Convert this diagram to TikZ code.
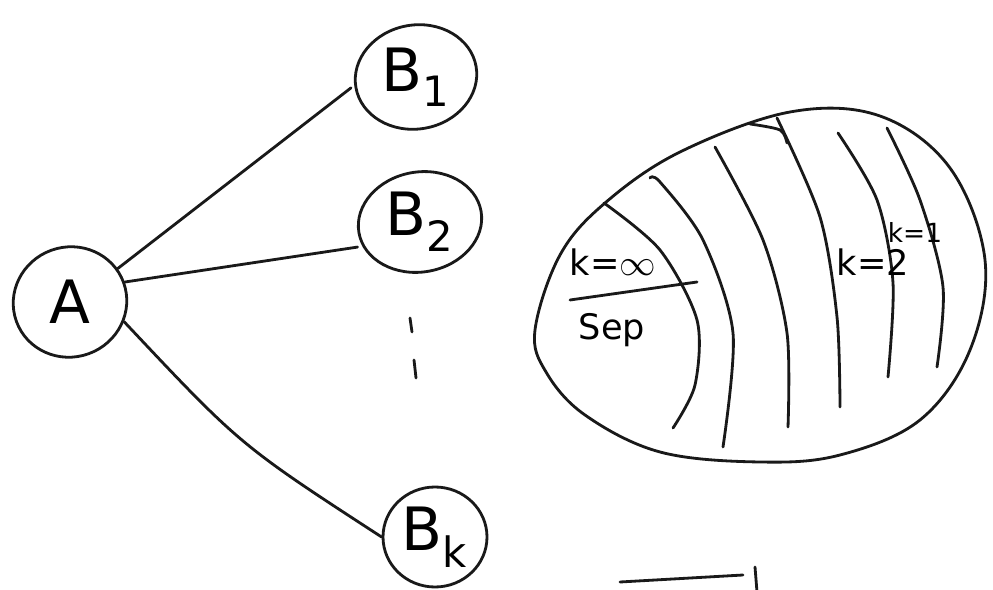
\documentclass[tikz,border=0pt]{standalone}
\usepackage{fontspec}
\setmainfont{DejaVu Sans}
\usetikzlibrary{shapes.geometric}
\begin{document}
\begin{tikzpicture}[x=0.02cm,y=-0.02cm,
  ink/.style={line width=1.6pt,draw=black!90,line cap=round,line join=round},
  vert/.style={ink,ellipse,inner sep=0pt},
  lbl/.style={font=\fontsize{34}{38}\selectfont},
  small/.style={font=\fontsize{20}{22}\selectfont}]
\fill[white] (0,0) rectangle (993,590);
\useasboundingbox (0,0) rectangle (993,590);
% vertices
\node[vert,minimum width=114*0.02cm,minimum height=110*0.02cm,rotate=20] (A) at (70,302) {};
\node[lbl] at (A) {A};
\node[vert,minimum width=122*0.02cm,minimum height=104*0.02cm,rotate=10] (B1) at (416,77) {};
\node[lbl] at (B1) {B\textsubscript{1}};
\node[vert,minimum width=124*0.02cm,minimum height=100*0.02cm,rotate=10] (B2) at (420,222) {};
\node[lbl] at (B2) {B\textsubscript{2}};
\node[vert,minimum width=104*0.02cm,minimum height=100*0.02cm] (Bk) at (435,537) {};
\node[lbl] at (Bk) {B\textsubscript{k}};
% edges
\draw[ink] (A.15) -- ([xshift=-2pt]B1.west);
\draw[ink] (A.east) -- ([yshift=-8pt]B2.west);
\draw[ink] (A.-40) .. controls (240,445) .. (Bk.west);
% vertical dots
\coordinate (d1) at (410,318); \coordinate (d2) at (412,332);
\coordinate (d3) at (414,360); \coordinate (d4) at (416,378);
\draw[ink] (d1) -- (d2);
\draw[ink] (d3) -- (d4);
% big egg
\draw[ink] plot[smooth cycle,tension=0.6] coordinates
  {(535,330) (560,255) (605,203) (680,152) (790,112) (880,116) (950,168) (985,260) (970,350) (920,420) (840,455) (760,462) (660,452) (585,415) (546,372)};
% inner bands
\draw[ink] plot[smooth] coordinates {(604,203) (660,250) (697,320) (695,385) (673,428)};
\draw[ink] plot[smooth] coordinates {(650,178) (660,182) (703,240) (733,333) (723,447)};
\draw[ink] plot[smooth] coordinates {(715,147) (763,240) (787,333) (788,427)};
\draw[ink] plot[smooth] coordinates {(750,124) (780,130) (787,143)};
\draw[ink] plot[smooth] coordinates {(777,118) (820,217) (837,317) (840,407)};
\draw[ink] plot[smooth] coordinates {(838,133) (877,200) (893,283) (888,377)};
\draw[ink] plot[smooth] coordinates {(887,128) (920,200) (943,287) (937,367)};
% labels
\node[small] (kinf) at (613,262) {k=$\infty$};
\coordinate (s1) at (570,300); \coordinate (s2) at (697,282);
\draw[ink] (s1) -- (s2);
\node[small] (sep) at (612,330) {Sep};
\node[small] (k2) at (873,262) {k=2};
\node[small,font=\fontsize{15}{17}\selectfont] (k1) at (915,232) {k=1};
% partial strokes at bottom edge
\coordinate (t1) at (620,582); \coordinate (t2) at (743,575);
\coordinate (t3) at (755,567); \coordinate (t4) at (757,592);
\draw[ink] (t1) -- (t2);
\draw[ink] (t3) -- (t4);
\end{tikzpicture}
\end{document}
